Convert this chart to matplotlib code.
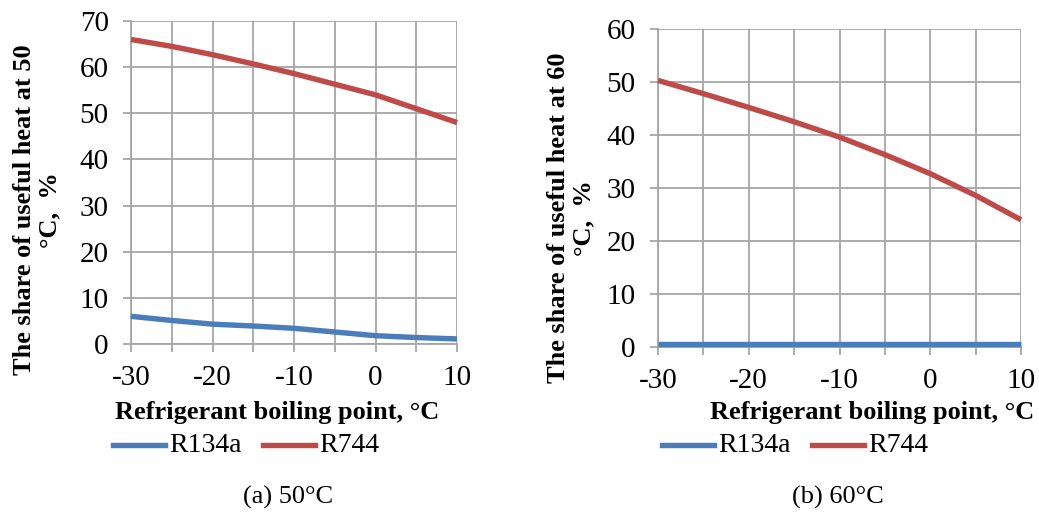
import matplotlib
matplotlib.use("Agg")
import matplotlib.pyplot as plt
from matplotlib.lines import Line2D

plt.rcParams['font.family'] = ['Liberation Serif', 'DejaVu Serif']
plt.rcParams['axes.unicode_minus'] = False

temps = [-30, -25, -20, -15, -10, -5, 0, 5, 10]
r134a_50 = [6.0, 5.1, 4.3, 3.9, 3.4, 2.6, 1.8, 1.4, 1.1]
r744_50 = [66.0, 64.5, 62.7, 60.7, 58.6, 56.3, 54.0, 51.0, 48.0]
r134a_60 = [0.5, 0.5, 0.5, 0.5, 0.5, 0.5, 0.5, 0.5, 0.5]
r744_60 = [50.3, 47.8, 45.2, 42.5, 39.6, 36.3, 32.7, 28.6, 24.0]

xticks = [-30, -20, -10, 0, 10]
blue = '#4A7EBB'
red = '#BE4B48'
grid_c = '#A6A6A6'

fig = plt.figure(figsize=(10.39, 5.14), dpi=100)

panels = [
    dict(rect=[131/1039, 1-344/514, 326/1039, 323/514], r134a=r134a_50, r744=r744_50,
         ymax=70, ylab="The share of useful heat at 50\n°C,  %", ylx=37/1039, yly=1-210/514,
         xlx=277/1039, caption="(a) 50°C", capx=288/1039, legx=[113, 263]),
    dict(rect=[658/1039, 1-347/514, 363/1039, 318/514], r134a=r134a_60, r744=r744_60,
         ymax=60, ylab="The share of useful heat at 60\n°C,  %", ylx=571/1039, yly=1-218/514,
         xlx=872/1039, caption="(b) 60°C", capx=838/1039, legx=[662, 812]),
]

fs = 21
for p in panels:
    ax = fig.add_axes(p['rect'])
    ax.plot(temps, p['r134a'], color=blue, lw=3.9, solid_capstyle='butt', zorder=3, clip_on=False)
    ax.plot(temps, p['r744'], color=red, lw=3.9, solid_capstyle='butt', zorder=3, clip_on=False)
    ax.set_xlim(-30, 10)
    ax.set_ylim(0, p['ymax'])
    ax.set_xticks(xticks)
    ax.set_xticks(temps, minor=True)
    ax.set_yticks(range(0, p['ymax'] + 1, 10))
    ax.grid(True, which='both', color=grid_c, lw=1.3)
    ax.set_axisbelow(True)
    for s in ['top', 'right']:
        ax.spines[s].set_visible(False)
    for s in ['left', 'bottom']:
        ax.spines[s].set_color(grid_c)
        ax.spines[s].set_linewidth(1.3)
    ax.tick_params(which='both', direction='out', length=6, width=1.3, color=grid_c,
                   labelsize=fs)
    ax.tick_params(axis='y', pad=10)
    ax.tick_params(axis='x', pad=9)
    fig.text(p['ylx'], p['yly'], p['ylab'], rotation=90, ha='center', va='center',
             fontsize=19, fontweight='bold', linespacing=1.1, multialignment='center')
    fig.text(p['xlx'], 1-413/514, "Refrigerant boiling point, °C", ha='center', va='center',
             fontsize=19, fontweight='bold')
    fig.text(p['capx'], 1-497/514, p['caption'], ha='center', va='center', fontsize=19)
    # legend
    for lx, col, lab in zip(p['legx'], [blue, red], ['R134a', 'R744']):
        fig.add_artist(Line2D([lx/1039, (lx+52)/1039], [1-445/514, 1-445/514],
                              color=col, lw=3.9, transform=fig.transFigure))
        fig.text((lx+56)/1039, 1-445/514, lab, ha='left', va='center', fontsize=20)

fig.savefig('out.png', dpi=100)
